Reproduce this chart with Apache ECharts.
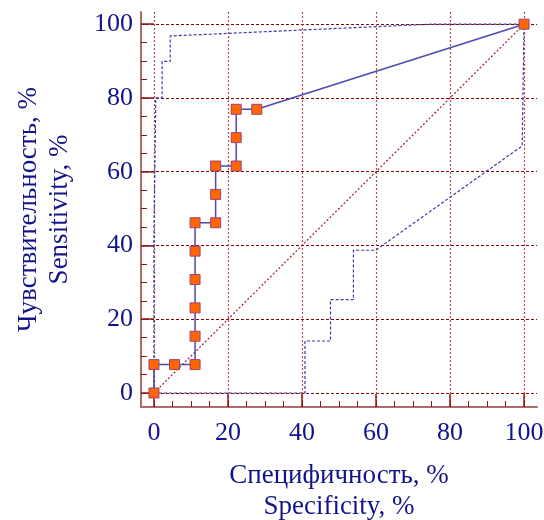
<!DOCTYPE html>
<html>
<head>
<meta charset="utf-8">
<script src="https://cdn.jsdelivr.net/npm/echarts@6/dist/echarts.min.js"></script>
<style>
  html, body { margin: 0; padding: 0; background: #fff; }
  #chart { width: 544px; height: 520px; }
</style>
</head>
<body>
<div id="chart"></div>
<script>
// ROC curve, values (specificity, sensitivity in %)
const rocSpec = [0, 0, 5.56, 11.11, 11.11, 11.11, 11.11, 11.11, 11.11, 16.67, 16.67, 16.67, 22.22, 22.22, 22.22, 27.78, 100];
const rocSens = [0, 7.69, 7.69, 7.69, 15.38, 23.08, 30.77, 38.46, 46.15, 46.15, 53.85, 61.54, 61.54, 69.23, 76.92, 76.92, 100];

// confidence bounds (dashed)
const upperSpec = [0, 0, 0.5, 0.5, 2.2, 2.2, 4.4, 4.4, 75, 100];
const upperSens = [0, 43.7, 43.7, 80, 80, 89.9, 89.9, 96.8, 100, 100];
const lowerSpec = [0, 40.8, 40.8, 47.7, 47.7, 53.9, 53.9, 59.9, 99.5, 100, 100];
const lowerSens = [0, 0, 14.1, 14.1, 25.3, 25.3, 38.7, 38.7, 67, 67, 100];

const diagSpec = [0, 100];
const diagSens = [0, 100];

const majorTicks = [0, 20, 40, 60, 80, 100];
const minorTicks = [0, 5, 10, 15, 20, 25, 30, 35, 40, 45, 50, 55, 60, 65, 70, 75, 80, 85, 90, 95, 100];

const xTitle = 'Специфичность, %\nSpecificity, %';
const yTitle = 'Чувствительность, %\nSensitivity, %';

const zip = (xs, ys) => xs.map((x, i) => [x, ys[i]]);

const textColor = '#14148a';
const font = 'Liberation Serif';

function majorAxis(isX) {
  return {
    type: 'value',
    min: isX ? -3.5 : -3.8,
    max: isX ? 103.5 : 103.3,
    position: isX ? 'bottom' : 'left',
    name: isX ? xTitle : yTitle,
    nameLocation: 'middle',
    nameGap: isX ? 53 : 66,
    nameTextStyle: { color: textColor, fontFamily: font, fontSize: 27, lineHeight: 31 },
    axisLine: { show: true, onZero: false, lineStyle: { color: '#b06a6a', width: 2 } },
    axisTick: { show: true, inside: true, length: 13, customValues: majorTicks,
      lineStyle: { color: '#8b1a1a', width: 1.5 } },
    axisLabel: { show: true, customValues: majorTicks, margin: isX ? 13 : 8,
      color: textColor, fontFamily: font, fontSize: 26 },
    splitLine: { show: true, lineStyle: { color: isX ? '#b84a4a' : '#8b0000', width: 1.2, type: isX ? [2, 2] : [3, 2] } }
  };
}

function minorAxis(isX) {
  return {
    type: 'value',
    min: isX ? -3.5 : -3.8,
    max: isX ? 103.5 : 103.3,
    position: isX ? 'bottom' : 'left',
    axisLine: { show: false, onZero: false },
    axisTick: { show: true, inside: true, length: 6, customValues: minorTicks,
      lineStyle: { color: '#8b1a1a', width: 1 } },
    axisLabel: { show: false },
    splitLine: { show: false }
  };
}

const chart = echarts.init(document.getElementById('chart'));
chart.setOption({
  animation: false,
  grid: { left: 141, right: 7, top: 12, bottom: 113, outerBoundsMode: 'none' },
  xAxis: [majorAxis(true), minorAxis(true)],
  yAxis: [majorAxis(false), minorAxis(false)],
  series: [
    {
      type: 'line', data: zip(diagSpec, diagSens), symbol: 'none', silent: true,
      lineStyle: { color: '#9a2020', width: 1.2, type: [2, 2] }
    },
    {
      type: 'line', data: zip(lowerSpec, lowerSens), symbol: 'none', silent: true,
      lineStyle: { color: '#3a3aa8', width: 1.2, type: [3, 2] }
    },
    {
      type: 'line', data: zip(upperSpec, upperSens), symbol: 'none', silent: true,
      lineStyle: { color: '#3a3aa8', width: 1.2, type: [3, 2] }
    },
    {
      type: 'line', data: zip(rocSpec, rocSens), symbol: 'rect', symbolSize: 10,
      lineStyle: { color: '#4a4ab0', width: 1.5 },
      itemStyle: { color: '#ff6600', borderColor: '#a0407a', borderWidth: 1 }
    }
  ]
});
</script>
</body>
</html>
